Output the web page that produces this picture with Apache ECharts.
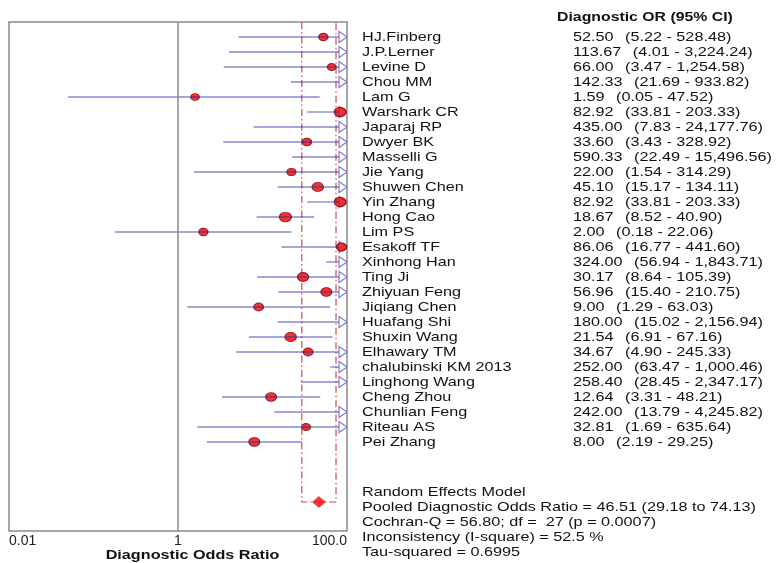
<!DOCTYPE html>
<html>
<head>
<meta charset="utf-8">
<script src="https://cdn.jsdelivr.net/npm/echarts@6/dist/echarts.min.js"></script>
<style>
  html, body { margin: 0; padding: 0; background: #ffffff; }
  #chart { width: 779px; height: 563px; }
</style>
</head>
<body>
<div id="chart"></div>
<script>
// Study-level diagnostic odds ratios with 95% confidence intervals
const studies = [
  'HJ.Finberg', 'J.P.Lerner', 'Levine D', 'Chou MM', 'Lam G', 'Warshark CR', 'Japaraj RP',
  'Dwyer BK', 'Masselli G', 'Jie Yang', 'Shuwen Chen', 'Yin Zhang', 'Hong Cao', 'Lim PS',
  'Esakoff TF', 'Xinhong Han', 'Ting Ji', 'Zhiyuan Feng', 'Jiqiang Chen', 'Huafang Shi',
  'Shuxin Wang', 'Elhawary TM', 'chalubinski KM 2013', 'Linghong Wang', 'Cheng Zhou',
  'Chunlian Feng', 'Riteau AS', 'Pei Zhang'
];
const oddsRatio = [
  52.50, 113.67, 66.00, 142.33, 1.59, 82.92, 435.00, 33.60, 590.33, 22.00, 45.10, 82.92, 18.67, 2.00,
  86.06, 324.00, 30.17, 56.96, 9.00, 180.00, 21.54, 34.67, 252.00, 258.40, 12.64, 242.00, 32.81, 8.00
];
const ciLower = [
  5.22, 4.01, 3.47, 21.69, 0.05, 33.81, 7.83, 3.43, 22.49, 1.54, 15.17, 33.81, 8.52, 0.18,
  16.77, 56.94, 8.64, 15.40, 1.29, 15.02, 6.91, 4.90, 63.47, 28.45, 3.31, 13.79, 1.69, 2.19
];
const ciUpper = [
  528.48, 3224.24, 1254.58, 933.82, 47.52, 203.33, 24177.76, 328.92, 15496.56, 314.29, 134.11, 203.33, 40.90, 22.06,
  441.60, 1843.71, 105.39, 210.75, 63.03, 2156.94, 67.16, 245.33, 1000.46, 2347.17, 48.21, 4245.82, 635.64, 29.25
];

// Pooled (random effects) summary
const pooledOR = 46.51;
const pooledLower = 29.18;
const pooledUpper = 74.13;
const cochranQ = '56.80';
const degreesOfFreedom = 27;
const pValue = '0.0007';
const iSquare = '52.5';
const tauSquared = 0.6995;

// Log axis range and its labels
const axisMin = 0.01;
const axisMax = 100;
const xTickValues = [0.01, 1, 100];
const xTickLabels = ['0.01', '1', '100.0'];

// ---- presentation ----
const FONT = '"Liberation Sans", Arial, sans-serif';
const TEXT_COLOR = '#111111';
const STRETCH = 1.2;            // horizontal stretch of all table text
const ROW_FONT = 13.5;
const NAME_X = 362;
const VALUE_X = 573;
const ARROW_W = 8, ARROW_H = 11;
const pooledRow = studies.length + 3;

const fmt = v => v.toLocaleString('en-US', { minimumFractionDigits: 2, maximumFractionDigits: 2 });

const measureCtx = document.createElement('canvas').getContext('2d');
function textWidth(s, size, weight) {
  measureCtx.font = (weight || 'normal') + ' ' + size + 'px "Liberation Sans"';
  return measureCtx.measureText(s).width * STRETCH;
}

// Random-effects weight from the CI width; marker size grows with it
function markerSize(i) {
  const se = (Math.log(ciUpper[i]) - Math.log(ciLower[i])) / (2 * 1.96);
  const w = 1 / (se * se + tauSquared);
  return 7.5 + 4 * w;
}

const rows = studies.map((_, i) => i);
const lineData = rows.map(i => [ciLower[i], i, ciUpper[i]]);
const arrowData = rows.filter(i => ciUpper[i] > axisMax).map(i => [axisMax, i]);
const pointData = rows.filter(i => oddsRatio[i] <= axisMax).map(i => [oddsRatio[i], i, markerSize(i)]);
const textData = rows.map(i => [1, i]);

const chart = echarts.init(document.getElementById('chart'), null, { renderer: 'canvas' });

const statsLines = [
  'Random Effects Model',
  'Pooled Diagnostic Odds Ratio = ' + fmt(pooledOR) + ' (' + fmt(pooledLower) + ' to ' + fmt(pooledUpper) + ')',
  'Cochran-Q = ' + cochranQ + '; df =  ' + degreesOfFreedom + ' (p = ' + pValue + ')',
  'Inconsistency (I-square) = ' + iSquare + ' %',
  'Tau-squared = ' + tauSquared.toFixed(4)
];

const graphics = [
  {
    type: 'text', x: 557, y: 17.5, scaleX: STRETCH,
    style: { text: 'Diagnostic OR (95% CI)', fontSize: 13.2, fontWeight: 'bold', fontFamily: FONT,
             fill: TEXT_COLOR, verticalAlign: 'middle', align: 'left' }
  },
  {
    type: 'text', x: 192.5, y: 555, scaleX: STRETCH,
    style: { text: 'Diagnostic Odds Ratio', fontSize: 13.5, fontWeight: 'bold', fontFamily: FONT,
             fill: TEXT_COLOR, verticalAlign: 'middle', align: 'center' }
  }
].concat(statsLines.map((t, k) => ({
  type: 'text', x: NAME_X, y: 492.7 + 15 * k, scaleX: STRETCH,
  style: { text: t, fontSize: ROW_FONT, fontFamily: FONT, fill: TEXT_COLOR, verticalAlign: 'middle', align: 'left' }
})));

const option = {
  animation: false,
  backgroundColor: '#ffffff',
  grid: {
    left: 9, right: 432, top: 22, bottom: 32,
    show: true, borderColor: '#8a8a8a', borderWidth: 1.5, backgroundColor: 'transparent'
  },
  xAxis: {
    type: 'log', logBase: 10, min: axisMin, max: axisMax,
    axisLine: { show: false },
    axisTick: { show: false },
    splitLine: { show: false },
    axisLabel: {
      show: true, showMinLabel: true, showMaxLabel: true,
      alignMinLabel: 'left', alignMaxLabel: 'right',
      margin: 3, fontSize: 14, fontFamily: FONT, color: '#222222',
      formatter: v => {
        const k = xTickValues.findIndex(t => Math.abs(Math.log10(t) - Math.log10(v)) < 1e-6);
        return k >= 0 ? xTickLabels[k] : '';
      }
    }
  },
  yAxis: {
    type: 'value', inverse: true, min: -1, max: -1 + 509 / 15,
    show: false
  },
  graphic: graphics,
  series: [
    {
      // pooled CI band edges and the line of no effect
      type: 'line', z: 1, silent: true,
      data: [[pooledLower, -1], [pooledLower, pooledRow], [pooledUpper, pooledRow], [pooledUpper, -1]],
      symbol: 'none',
      lineStyle: { color: '#cc4a4a', width: 1.2, type: [7, 3, 1.5, 3] },
      markLine: {
        silent: true, symbol: 'none', label: { show: false },
        lineStyle: { color: '#8a8a8a', width: 1.5, type: 'solid' },
        data: [{ xAxis: 1 }]
      }
    },
    {
      // open arrowheads where the upper limit runs past the axis
      type: 'custom', z: 2, silent: true, clip: false,
      data: arrowData,
      encode: { x: 0, y: 1 },
      renderItem: (params, api) => {
        const p = api.coord([api.value(0), api.value(1)]);
        return {
          type: 'polygon',
          shape: { points: [[p[0] - ARROW_W, p[1] - ARROW_H / 2], [p[0], p[1]], [p[0] - ARROW_W, p[1] + ARROW_H / 2]] },
          style: { fill: '#ffffff', stroke: '#8080cc', lineWidth: 1.2 }
        };
      }
    },
    {
      // study point estimates
      type: 'scatter', z: 3, silent: true,
      data: pointData,
      symbol: 'circle',
      symbolSize: v => [v[2], v[2] * 0.8],
      itemStyle: { color: '#f00000', borderColor: '#7a0000', borderWidth: 1 }
    },
    {
      // confidence intervals
      type: 'custom', z: 4, silent: true, clip: false,
      data: lineData,
      encode: { x: 0, y: 1 },
      renderItem: (params, api) => {
        const lo = api.value(0), row = api.value(1), hi = api.value(2);
        const a = api.coord([lo, row]);
        let b;
        if (hi > axisMax) {
          b = api.coord([axisMax, row]);
          b[0] -= ARROW_W;
        } else {
          b = api.coord([hi, row]);
        }
        return {
          type: 'line',
          shape: { x1: a[0], y1: a[1], x2: b[0], y2: b[1] },
          style: { stroke: 'rgba(40,40,170,0.55)', lineWidth: 1.4 }
        };
      }
    },
    {
      // pooled estimate
      type: 'scatter', z: 5, silent: true,
      data: [[pooledOR, pooledRow]],
      symbol: 'diamond', symbolSize: [13, 11],
      itemStyle: { color: '#ff0000', borderColor: '#b00000', borderWidth: 0.5 }
    },
    {
      // study table on the right
      type: 'custom', z: 5, silent: true, clip: false,
      data: textData,
      encode: { x: 0, y: 1 },
      renderItem: (params, api) => {
        const i = api.value(1);
        const y = api.coord([1, i])[1];
        const valueText = fmt(oddsRatio[i]);
        const ciText = '(' + fmt(ciLower[i]) + ' - ' + fmt(ciUpper[i]) + ')';
        const ciX = VALUE_X + textWidth(valueText, ROW_FONT) + 11.5;
        const base = { fontSize: ROW_FONT, fontFamily: FONT, fill: TEXT_COLOR, verticalAlign: 'middle', align: 'left' };
        return {
          type: 'group',
          children: [
            { type: 'text', x: NAME_X, y: y, scaleX: STRETCH, style: Object.assign({ text: studies[i] }, base) },
            { type: 'text', x: VALUE_X, y: y, scaleX: STRETCH, style: Object.assign({ text: valueText }, base) },
            { type: 'text', x: ciX, y: y, scaleX: STRETCH, style: Object.assign({ text: ciText }, base) }
          ]
        };
      }
    }
  ]
};

chart.setOption(option);
</script>
</body>
</html>
